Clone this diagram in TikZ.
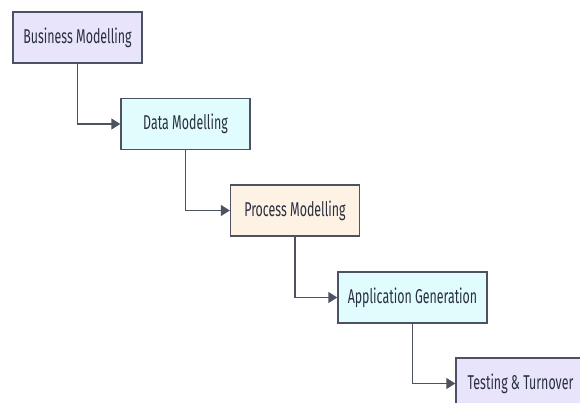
\documentclass[tikz,border=0pt]{standalone}
\usepackage{fontspec}
\setmainfont{Fira Sans}[FakeStretch=0.62]
\usetikzlibrary{arrows.meta}
\definecolor{textcol}{HTML}{2B3040}
\definecolor{boxline}{HTML}{4D5263}
\definecolor{lavender}{HTML}{E7E4FB}
\definecolor{paleblue}{HTML}{E0FCFD}
\definecolor{peach}{HTML}{FDF2E4}

\begin{document}
\begin{tikzpicture}[x=1pt,y=-1pt,
    stage/.style={draw=boxline,line width=1.4pt,minimum width=129pt,minimum height=51pt,
      inner sep=0pt,text=textcol,font=\fontsize{20}{22}\selectfont},
    link/.style={draw=boxline,line width=1.4pt,-{Triangle[length=9pt,width=11pt]}}]
    \useasboundingbox (0,0) rectangle (580,403);
    \node[stage,fill=lavender] (business) at (77.5,37.5) {Business Modelling};
    \node[stage,fill=paleblue] (data) at (185.5,124) {Data Modelling};
    \node[stage,fill=peach] (process) at (295,210.5) {Process Modelling};
    \node[stage,fill=paleblue,minimum width=149pt] (application) at (412.5,297.5) {Application Generation};
    \node[stage,fill=lavender] (testing) at (520.5,383.5) {Testing \& Turnover};
    \draw[link] (business.south) |- (data.west);
    \draw[link] (data.south) |- (process.west);
    \draw[link] (process.south) |- (application.west);
    \draw[link] (application.south) |- (testing.west);
  \end{tikzpicture}
\end{document}
